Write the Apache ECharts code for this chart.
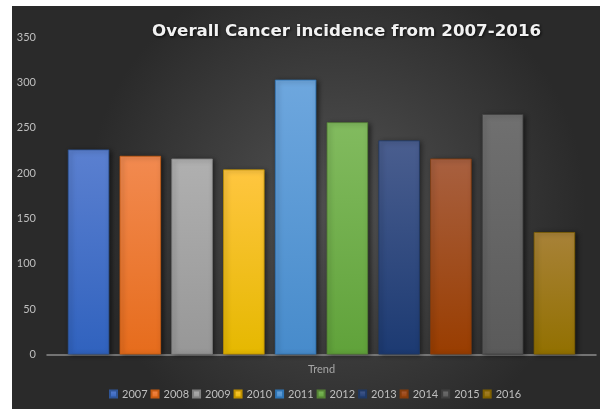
<!DOCTYPE html>
<html>
<head>
<meta charset="utf-8">
<script src="https://cdn.jsdelivr.net/npm/echarts@6/dist/echarts.min.js"></script>
<style>
  html, body { margin: 0; padding: 0; background: #ffffff; }
  #chart { width: 600px; height: 409px; }
</style>
</head>
<body>
<div id="chart"></div>
<script>
// Yearly overall cancer incidence, one bar per year in a single "Trend" group
const categories = ['Trend'];
const years = ['2007', '2008', '2009', '2010', '2011', '2012', '2013', '2014', '2015', '2016'];
const incidence = [226, 219, 216, 204, 303, 256, 236, 216, 265, 135];
const yTicks = { min: 0, max: 350, interval: 50 };

// Top / bottom shade of each bar's vertical gradient, and its outline
const topColors = ['#5b80d0', '#f28a50', '#b0b0b0', '#ffc640', '#6ea7de', '#82bb5f', '#4a5e8f', '#a86040', '#707070', '#a88238'];
const bottomColors = ['#3062be', '#e66c1c', '#979797', '#e5b800', '#478bcb', '#60a23a', '#1c3a72', '#993d00', '#5a5a5a', '#927000'];
const edgeColors = ['#2f5597', '#c55a11', '#7f7f7f', '#bf9000', '#2e75b6', '#548235', '#1f3864', '#843c0c', '#404040', '#7f6000'];

const chart = echarts.init(document.getElementById('chart'), null, { renderer: 'canvas' });

const series = years.map((y, i) => ({
  name: y,
  type: 'bar',
  data: [incidence[i]],
  barGap: '25%',
  barCategoryGap: '7.6%',
  itemStyle: {
    color: new echarts.graphic.LinearGradient(0, 0, 0, 1, [
      { offset: 0, color: topColors[i] },
      { offset: 1, color: bottomColors[i] }
    ]),
    borderColor: edgeColors[i],
    borderWidth: 0.8,
    shadowColor: 'rgba(0,0,0,0.55)',
    shadowBlur: 5,
    shadowOffsetX: 2,
    shadowOffsetY: 1
  }
}));

chart.setOption({
  animation: false,
  backgroundColor: 'transparent',
  color: bottomColors,
  graphic: [{
    type: 'rect',
    z: -10,
    silent: true,
    shape: { x: 12, y: 6, width: 588, height: 403 },
    style: {
      fill: new echarts.graphic.RadialGradient(0.55, 0.5, 0.62, [
        { offset: 0, color: '#525252' },
        { offset: 1, color: '#2a2a2a' }
      ])
    }
  }],
  title: {
    text: 'Overall Cancer incidence from 2007-2016',
    left: 152,
    top: 23,
    padding: 0,
    textStyle: {
      color: '#f2f2f2',
      fontFamily: 'DejaVu Sans',
      fontWeight: 'bold',
      fontSize: 16.7,
      textShadowColor: 'rgba(0,0,0,0.8)',
      textShadowBlur: 3,
      textShadowOffsetX: 1,
      textShadowOffsetY: 1
    }
  },
  legend: {
    data: years,
    left: 109,
    top: 388.5,
    padding: 0,
    icon: 'rect',
    itemWidth: 7,
    itemHeight: 7,
    itemGap: 3,
    textStyle: { color: '#bfbfbf', fontSize: 11, fontFamily: 'Lato' }
  },
  grid: { left: 47, right: 4, top: 37, bottom: 54.5, containLabel: false },
  xAxis: {
    type: 'category',
    data: categories,
    axisLine: { show: true, lineStyle: { color: '#8c8c8c', width: 1.5 } },
    axisTick: { show: false },
    axisLabel: { color: '#a6a6a6', fontSize: 11, fontFamily: 'Lato', margin: 9 }
  },
  yAxis: {
    type: 'value',
    min: yTicks.min,
    max: yTicks.max,
    interval: yTicks.interval,
    axisLine: { show: false },
    axisTick: { show: false },
    splitLine: { show: false },
    axisLabel: { color: '#bfbfbf', fontSize: 11, fontFamily: 'Lato', margin: 11 }
  },
  series: series
});
</script>
</body>
</html>
